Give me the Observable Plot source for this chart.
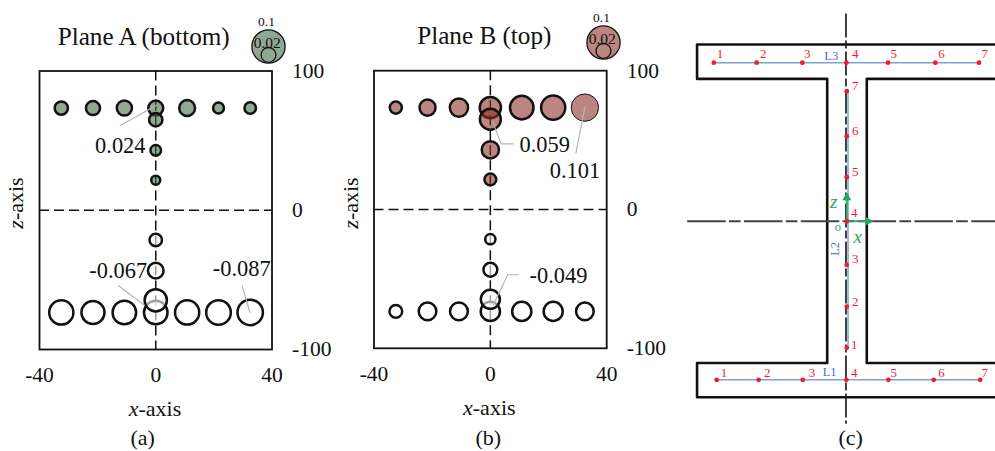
<!DOCTYPE html>
<html>
<head>
<meta charset="utf-8">
<script src="https://cdn.jsdelivr.net/npm/d3@7"></script>
<script src="https://cdn.jsdelivr.net/npm/@observablehq/plot@0.6"></script>
<style>
html,body{margin:0;padding:0;background:#fff;width:995px;height:451px;overflow:hidden}
#fig{position:relative;width:995px;height:451px;font-family:"Liberation Serif",serif;color:#111}
#fig svg{position:absolute;overflow:visible;background:transparent}
.lab{position:absolute;line-height:1;white-space:nowrap;transform:translate(-50%,-50%)}
.rot{transform:translate(-50%,-50%) rotate(-90deg)}
</style>
</head>
<body>
<div id="fig"></div>
<script>
// Station positions (shared by the three panels)
const rowX = [-32.5, -21.6, -10.8, 0, 10.8, 21.6, 32.5];
const topZ = 73.4, bottomZ = -73.4;
const webUpperZ = [65, 43, 21.6];
const webLowerZ = [-21.4, -43.4, -64.7];
const xTicks = [-40, 0, 40];
const zTicks = [-100, 0, 100];

// Plane A (bottom): strain magnitudes
const aTopRow = [0.024, 0.027, 0.031, 0.030, 0.034, 0.016, 0.018];
const aWebUpper = [0.024, 0.015, 0.011];
const aWebLower = [0.021, 0.033, 0.067];
const aBottomRow = [0.079, 0.072, 0.075, 0.075, 0.079, 0.082, 0.087];

// Plane B (top)
const bTopRow = [0.020, 0.035, 0.045, 0.061, 0.075, 0.079, 0.101];
const bWebUpper = [0.059, 0.040, 0.019];
const bWebLower = [0.014, 0.026, 0.049];
const bBottomRow = [0.022, 0.042, 0.043, 0.050, 0.050, 0.049, 0.042];

// Annotation labels and leader lines, in data units [x, z]
const aNotes = [["0.024", -12.2, 46.3], ["-0.067", -12.9, -43.4], ["-0.087", 29.6, -42.4]];
const aLeaders = [
  [[-12.2, 60.8], [0.3, 75.4]],
  [[-12.8, -54.2], [-4, -68.1]],
  [[29.7, -54.2], [32.4, -73.4]]
];
const bNotes = [["0.059", 18.7, 46.5], ["0.101", 29.1, 27.8], ["-0.049", 23.4, -47.5]];
const bLeaders = [
  [[0.8, 63.3], [3.7, 47.3], [7.9, 47.3]],
  [[32.5, 73.7], [29.4, 40.6]],
  [[1, -68.6], [6, -47], [9.6, -47]]
];

// Size key
const keyValues = [0.1, 0.02];
const keyDotY = [0.5, 0.395];
const keyTextY = [0.805, 0.54];
const keyTextSize = [13.5, 15.5];

// Section drawing (c)
const flangeTopX = [-32.6, -22.1, -10.9, -0.1, 10.1, 21.7, 32.4];
const flangeBottomX = [-31.9, -21.6, -10.8, -0.1, 10.2, 21.3, 32.7];
const webDotZ = [-58.6, -39.5, -20.2, 0, 20.4, 39.4, 60.2];
const stationNames = ["1", "2", "3", "4", "5", "6", "7"];
const flangeTopTextX = [-31.1, -20.5, -9.7, 2.1, 11.5, 23.2, 33.8];
const flangeBottomTextX = [-30.1, -19.5, -8.5, 1.8, 11.5, 23.2, 33.8];
const webTextZ = [-57, -37.5, -17.4, 3.9, 22.7, 41.7, 62.8];
const outlineLeft = [[37, 81.8], [-36.7, 81.8], [-36.7, 65.9], [-4.8, 65.9], [-4.8, -65.6], [-36.7, -65.6], [-36.7, -81.5], [37, -81.5]];
const outlineRight = [[37, 65.9], [4.9, 65.9], [4.9, -65.6], [37, -65.6]];

const SERIF = "Liberation Serif";
const fig = document.getElementById("fig");
const zip = (xs, zs, vs) => xs.map((x, i) => ({x, z: zs[i], v: vs[i]}));
const place = (el, left, top) => { el.style.left = left + "px"; el.style.top = top + "px"; fig.appendChild(el); };
const label = (html, cx, cy, size, rot) => {
  const d = document.createElement("div");
  d.className = "lab" + (rot ? " rot" : "");
  d.innerHTML = html;
  d.style.fontSize = size + "px";
  place(d, cx, cy);
};

function panel({left, top, width, height, ml, mr, mt, mb, fillColor, topRow, webUp, webLow, botRow, notes, leaders}) {
  const lower = [...zip(rowX, rowX.map(() => bottomZ), botRow), ...zip(webLowerZ.map(() => 0), webLowerZ, webLow)];
  const upper = [...zip(rowX, rowX.map(() => topZ), topRow), ...zip(webUpperZ.map(() => 0), webUpperZ, webUp)];
  const sw = d => d.v > 0.1 ? 1 : 2.5;
  const p = Plot.plot({
    width, height, marginLeft: ml, marginRight: mr, marginTop: mt, marginBottom: mb,
    style: {background: "transparent", fontFamily: SERIF, fontSize: "21.5px", color: "#111"},
    x: {domain: [-40, 40]},
    y: {domain: [-100, 100]},
    r: {type: "sqrt", domain: [0, 0.1], range: [0, 13.6]},
    marks: [
      Plot.frame({stroke: "#111", strokeWidth: 1.8}),
      Plot.ruleX([0], {stroke: "#111", strokeWidth: 1.5, strokeDasharray: "10,5"}),
      Plot.ruleY([0], {stroke: "#111", strokeWidth: 1.5, strokeDasharray: "10,5"}),
      Plot.dot(lower, {x: "x", y: "z", r: "v", stroke: "#111", strokeWidth: 2.5, fill: "#fff", fillOpacity: 0.6}),
      Plot.dot(upper, {x: "x", y: "z", r: "v", stroke: "#111", strokeWidth: sw, fill: fillColor, fillOpacity: 0.58}),
      ...leaders.map(l => Plot.line(l, {x: d => d[0], y: d => d[1], stroke: "#b5b5b5", strokeWidth: 1.2})),
      Plot.text(notes, {x: d => d[1], y: d => d[2], text: d => d[0], fontSize: 22.4, fill: "#111"}),
      Plot.axisX({ticks: xTicks, tickSize: 0, tickPadding: 17, tickFormat: d => String(d), label: null, fontSize: 21.5, anchor: "bottom"}),
      Plot.axisY({ticks: zTicks, tickSize: 0, tickPadding: 20, tickFormat: d => String(d), label: null, fontSize: 21.5, anchor: "right", textAnchor: "start"})
    ]
  });
  place(p, left, top);
}

function key(left, top, fillColor) {
  const rows = keyValues.map((v, i) => ({v, y: keyDotY[i], ty: keyTextY[i], fs: keyTextSize[i]}));
  const p = Plot.plot({
    width: 80, height: 80, margin: 0,
    style: {background: "transparent", fontFamily: SERIF},
    x: {domain: [0, 1], axis: null},
    y: {domain: [0, 1], axis: null},
    r: {type: "sqrt", domain: [0, 0.1], range: [0, 16.6]},
    marks: [
      Plot.dot(rows.slice(0, 1), {x: () => 0.5, y: "y", r: "v", stroke: "#111", strokeWidth: 1.3, fill: fillColor, fillOpacity: 0.58}),
      Plot.dot(rows.slice(1), {x: () => 0.5, y: "y", r: "v", stroke: "#111", strokeWidth: 1.3, fill: "none"}),
      Plot.text(rows.slice(0, 1), {x: () => 0.475, y: "ty", text: d => String(d.v), fontSize: d => d.fs, fill: "#111"}),
      Plot.text(rows.slice(1), {x: () => 0.485, y: "ty", text: d => String(d.v), fontSize: d => d.fs, fill: "#111"})
    ]
  });
  place(p, left, top);
}

panel({left: 0, top: 0, width: 330, height: 451, ml: 39, mr: 58.5, mt: 70.5, mb: 102,
  fillColor: "#3e6b46", topRow: aTopRow, webUp: aWebUpper, webLow: aWebLower, botRow: aBottomRow, notes: aNotes, leaders: aLeaders});
panel({left: 330, top: 0, width: 350, height: 451, ml: 43.5, mr: 73.8, mt: 70.2, mb: 103.2,
  fillColor: "#8c2f25", topRow: bTopRow, webUp: bWebUpper, webLow: bWebLower, botRow: bBottomRow, notes: bNotes, leaders: bLeaders});
key(228, 6, "#3e6b46");
key(562.5, 2, "#8c2f25");

// Panel (c): instrumented section
const RED = "#f01c2b", BLUE = "#4472c4", GREEN = "#22a862", LINE = "#7f9fd8";
const topDots = flangeTopX.map(x => ({x, z: topZ}));
const botDots = flangeBottomX.map(x => ({x, z: bottomZ}));
const webDots = webDotZ.map(z => ({x: 0, z}));
const redText = [
  ...flangeTopTextX.map((x, i) => ({x, z: 77.5, t: stationNames[i]})),
  ...flangeBottomTextX.map((x, i) => ({x, z: -70.4, t: stationNames[i]})),
  ...webTextZ.map((z, i) => ({x: i === 0 || i === 3 ? 1.8 : 2.1, z, t: stationNames[i]}))
];
const blueText = [{x: -3.8, z: 76.6, t: "L3"}, {x: -4.2, z: -69.9, t: "L1"}];
const px = d => d[0], pz = d => d[1];
const c = Plot.plot({
  width: 315, height: 451, margin: 0,
  style: {background: "transparent", fontFamily: SERIF},
  x: {domain: [-40.76, 36.45], axis: null},
  y: {domain: [-106.6, 102.2], axis: null},
  marks: [
    Plot.line(outlineLeft, {x: px, y: pz, stroke: "#111", strokeWidth: 2.6}),
    Plot.line(outlineRight, {x: px, y: pz, stroke: "#111", strokeWidth: 2.6}),
    Plot.ruleY([0], {x1: -39, x2: 36.45, stroke: "#444", strokeWidth: 1.8, strokeDasharray: "38.5,3.3,11.7,3.3"}),
    Plot.ruleX([-0.2], {y1: 96, y2: -94, stroke: "#222", strokeWidth: 1.7, strokeDasharray: "24,3,8,3"}),
    Plot.ruleY([topZ], {x1: -32.6, x2: 32.4, stroke: LINE, strokeWidth: 1.5}),
    Plot.ruleY([bottomZ], {x1: -31.9, x2: 32.7, stroke: LINE, strokeWidth: 1.5}),
    Plot.ruleX([0.3], {y1: 60.2, y2: -58.6, stroke: LINE, strokeWidth: 1.5}),
    Plot.link([{}], {x1: () => 0, y1: () => 0, x2: () => 5.2, y2: () => 0, stroke: GREEN, strokeWidth: 1.7}),
    Plot.link([{}], {x1: () => 0, y1: () => 0, x2: () => 0, y2: () => 11, stroke: GREEN, strokeWidth: 1.7}),
    Plot.dot([[5.2, 0]], {x: px, y: pz, symbol: "triangle", r: 3.4, rotate: 90, fill: GREEN}),
    Plot.dot([[0, 11]], {x: px, y: pz, symbol: "triangle", r: 3.4, fill: GREEN}),
    Plot.dot([...topDots, ...botDots, ...webDots], {x: "x", y: "z", r: 2.4, fill: RED}),
    Plot.text(redText, {x: "x", y: "z", text: "t", fill: RED, fontSize: 13}),
    Plot.text(blueText, {x: "x", y: "z", text: "t", fill: BLUE, fontSize: 12.5}),
    Plot.text([[-2.8, -12.8]], {x: px, y: pz, text: () => "L2", fill: BLUE, fontSize: 12.5, rotate: -90}),
    Plot.text([[-3.2, 8.8]], {x: px, y: pz, text: () => "z", fill: GREEN, fontSize: 19, fontStyle: "italic"}),
    Plot.text([[2.7, -7.4]], {x: px, y: pz, text: () => "x", fill: GREEN, fontSize: 19, fontStyle: "italic"}),
    Plot.text([[-2.2, -2.8]], {x: px, y: pz, text: () => "o", fill: GREEN, fontSize: 12.5})
  ]
});
place(c, 680, 0);

// Titles, axis titles and captions
label("Plane A (bottom)", 143.7, 36.5, 25.2);
label("Plane B (top)", 484.3, 35.5, 25.2);
label("<i>x</i>-axis", 155, 409, 22);
label("<i>x</i>-axis", 489.3, 408, 22);
label("<i>z</i>-axis", 15.7, 203, 22, true);
label("<i>z</i>-axis", 350.7, 203, 22, true);
label("(a)", 142.7, 438, 22);
label("(b)", 488.3, 438, 22);
label("(c)", 850.7, 438, 22);
</script>
</body>
</html>
